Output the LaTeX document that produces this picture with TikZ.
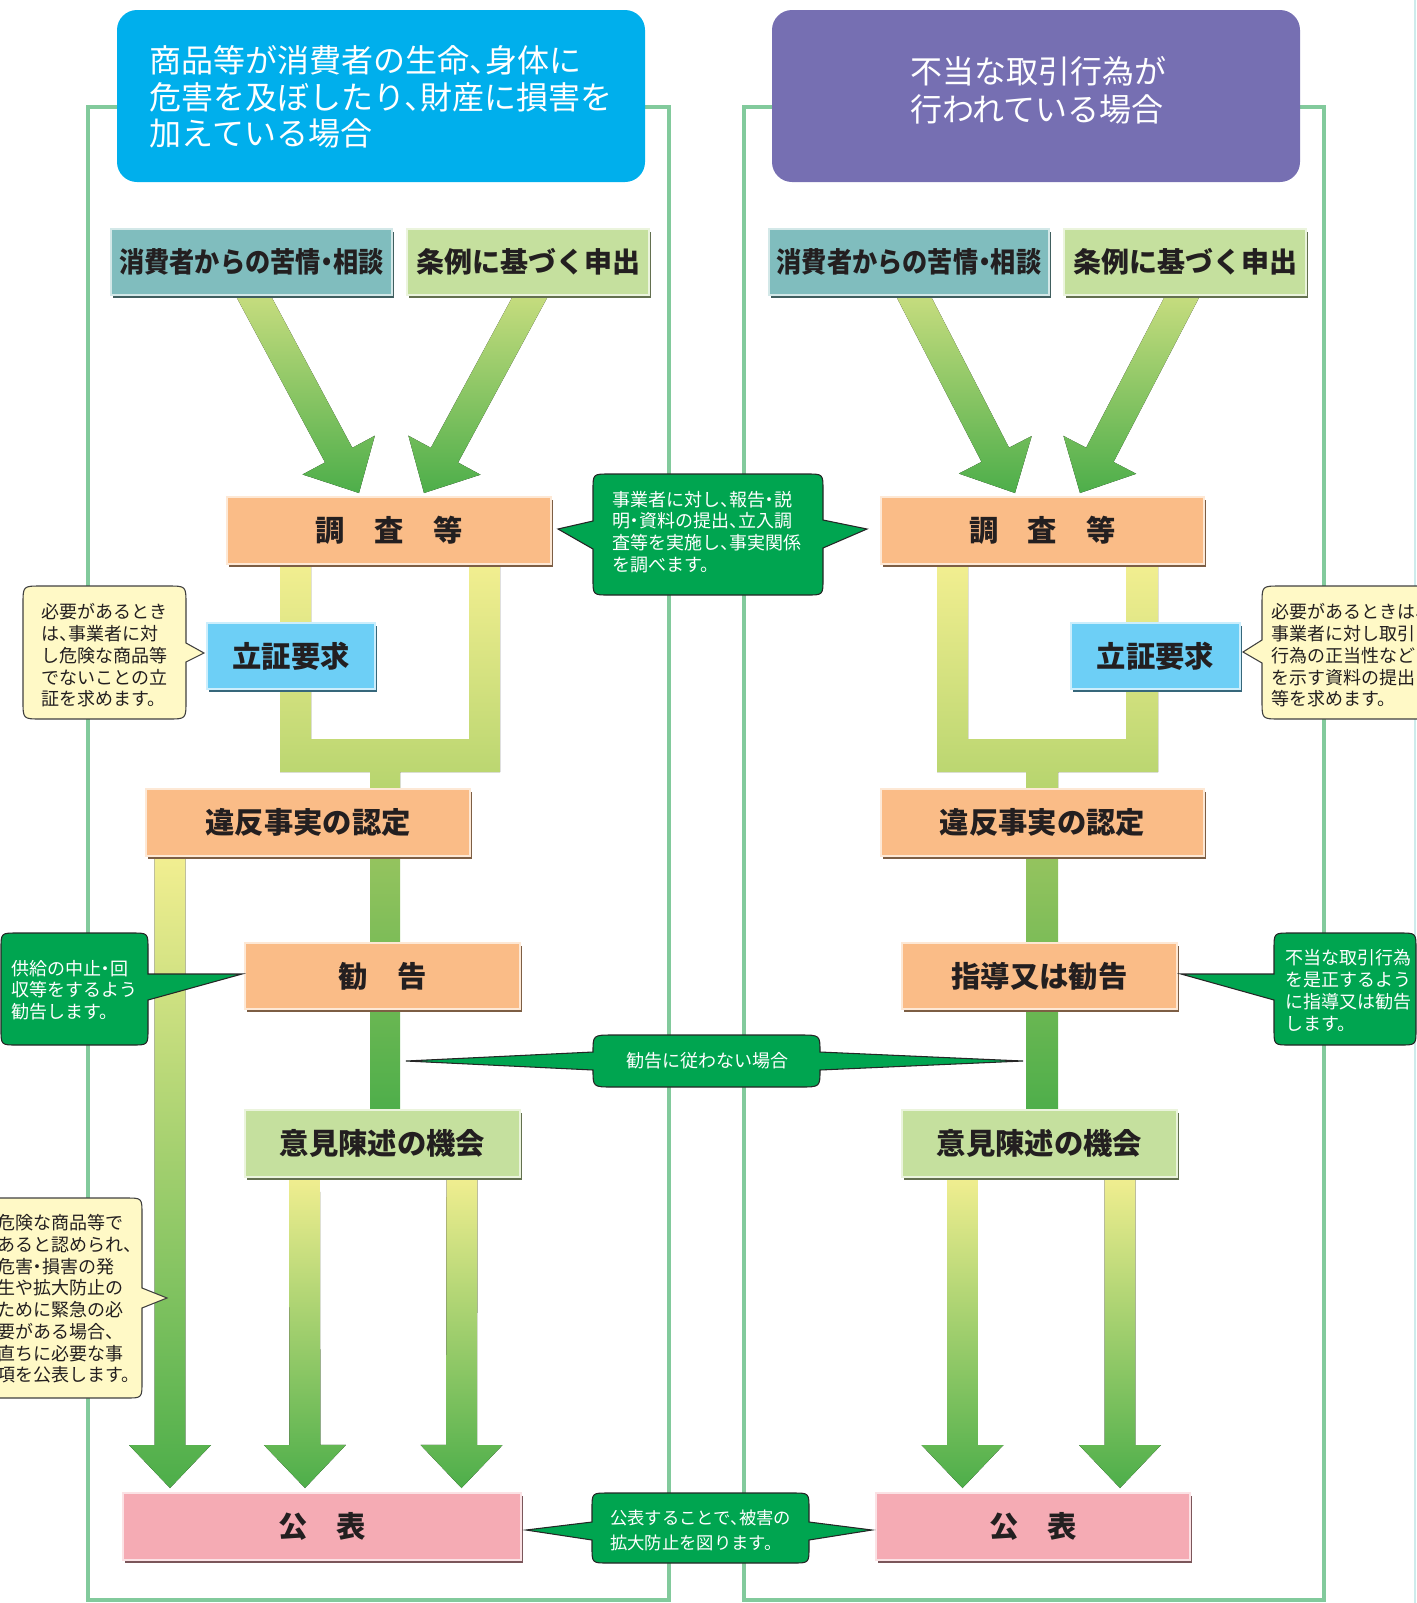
\documentclass[tikz,border=0pt]{standalone}
\usepackage{fontspec}
\setmainfont{Noto Sans CJK JP}[RawFeature=+halt]
\usepackage{graphicx}
\usetikzlibrary{calc,shadows,backgrounds}

\definecolor{frameGreen}{RGB}{130,202,156}
\definecolor{headBlue}{RGB}{0,175,236}
\definecolor{headPurple}{RGB}{118,111,178}
\definecolor{claimTeal}{RGB}{128,189,190}
\definecolor{appLime}{RGB}{197,224,158}
\definecolor{stepOrange}{RGB}{250,188,135}
\definecolor{proofBlue}{RGB}{109,207,246}
\definecolor{pubPink}{RGB}{245,171,180}
\definecolor{noteGreen}{RGB}{0,165,80}
\definecolor{noteYellow}{RGB}{255,249,198}
\definecolor{barYellow}{RGB}{243,239,145}
\definecolor{barLime}{RGB}{182,212,110}
\definecolor{barMid}{RGB}{150,196,95}
\definecolor{barGreen}{RGB}{77,174,74}
\definecolor{arrowTop}{RGB}{218,228,135}
\definecolor{inkDark}{RGB}{35,31,32}
\definecolor{edgeCyan}{RGB}{205,236,236}

\tikzset{
  colframe/.style={draw=frameGreen, line width=3pt},
  headbox/.style={fill=#1, rounded corners=15pt, inner sep=0pt,
    minimum width=396pt, minimum height=129pt},
  headtext/.style={text=white, align=left, inner sep=0pt,
    font=\fontsize{24}{27.5}\selectfont},
  stepbox/.style={fill=#1, draw=#1!35!white, line width=1.5pt, inner sep=0pt, text=inkDark,
    drop shadow={shadow xshift=1.2pt, shadow yshift=-2pt, fill=#1!50!black, opacity=1},
    font=\bfseries\fontsize{22}{26}\selectfont},
  subbox/.style={stepbox=#1, font=\bfseries\fontsize{21}{25}\selectfont},
  callG/.style={fill=noteGreen, draw=black!85, line width=0.8pt},
  callY/.style={fill=noteYellow, draw=black!75, line width=0.8pt},
  notetext/.style={anchor=west, align=left, inner sep=0pt, text=inkDark,
    font=\fontsize{13.5}{16.3}\selectfont},
  notewhite/.style={notetext, text=white},
  joinbar/.style={top color=barYellow, bottom color=barLime},
  midbar/.style={top color=barMid, bottom color=barGreen},
  downbar/.style={top color=barYellow, bottom color=barGreen},
  slantbar/.style={top color=arrowTop, bottom color=barGreen},
}

% fat shaded arrow from #2 to tip #3
\newcommand{\fatarrow}[3][]{%
  \path (#2) coordinate (fa-s) (#3) coordinate (fa-t);
  \path ($(fa-t)!32.25pt!(fa-s)$) coordinate (fa-h);
  \fill[#1] ($(fa-s)!11.6pt!90:(fa-t)$) -- ($(fa-h)!11.6pt!90:(fa-t)$)
    -- ($(fa-h)!30.75pt!90:(fa-t)$) -- (fa-t)
    -- ($(fa-h)!30.75pt!-90:(fa-t)$) -- ($(fa-h)!11.6pt!-90:(fa-t)$)
    -- ($(fa-s)!11.6pt!-90:(fa-t)$) -- cycle;}

\begin{document}
\begin{tikzpicture}[x=0.75pt,y=0.75pt,yscale=-1,xscale=1]
\useasboundingbox (0,0) rectangle (1417,1603);
\clip (0,0) rectangle (1417,1603);

% Header boxes
\node[headbox=headBlue] (headL) at (381,96) {};
\node[headtext] (headLtext) at (381,97) {商品等が消費者の生命、身体に\\危害を及ぼしたり、財産に損害を\\加えている場合};
\node[headbox=headPurple] (headR) at (1036,96) {};
\node[headtext, font=\fontsize{24}{28.3}\selectfont] (headRtext) at (1038,90) {不当な取引行為が\\行われている場合};

% Source boxes
\node[subbox=claimTeal, minimum width=210.75pt, minimum height=49.5pt] (claimL) at (251.5,262) {\scalebox{0.9}[1]{消費者からの苦情・相談}};
\node[subbox=appLime, minimum width=181.5pt, minimum height=49.5pt] (appL) at (528,262) {条例に基づく申出};
\node[subbox=claimTeal, minimum width=210pt, minimum height=49.5pt] (claimR) at (909,262) {\scalebox{0.9}[1]{消費者からの苦情・相談}};
\node[subbox=appLime, minimum width=181.5pt, minimum height=49.5pt] (appR) at (1185,262) {条例に基づく申出};

% Step boxes
\node[stepbox=stepOrange, minimum width=243pt, minimum height=50.25pt] (surveyL) at (389,530.5) {調\hspace{1em}査\hspace{1em}等};
\node[stepbox=stepOrange, minimum width=242.25pt, minimum height=50.25pt] (surveyR) at (1042.5,530.5) {調\hspace{1em}査\hspace{1em}等};
\node[stepbox=proofBlue, minimum width=126pt, minimum height=49.5pt] (proofL) at (291,656) {立証要求};
\node[stepbox=proofBlue, minimum width=126.75pt, minimum height=49.5pt] (proofR) at (1155.5,656) {立証要求};
\node[stepbox=stepOrange, minimum width=243pt, minimum height=50.25pt] (factL) at (308,822.5) {違反事実の認定};
\node[stepbox=stepOrange, minimum width=242.25pt, minimum height=50.25pt] (factR) at (1042.5,822.5) {違反事実の認定};
\node[stepbox=stepOrange, minimum width=206.25pt, minimum height=49.5pt] (adviseL) at (382.5,976) {勧\hspace{1em}告};
\node[stepbox=stepOrange, minimum width=206.25pt, minimum height=49.5pt] (adviseR) at (1039.5,976) {指導又は勧告};
\node[stepbox=appLime, minimum width=206.25pt, minimum height=50.25pt] (hearL) at (382.5,1143.5) {意見陳述の機会};
\node[stepbox=appLime, minimum width=206.25pt, minimum height=50.25pt] (hearR) at (1039.5,1143.5) {意見陳述の機会};
\node[stepbox=pubPink, minimum width=298.5pt, minimum height=50.25pt] (pubL) at (322,1526.5) {公\hspace{1em}表};
\node[stepbox=pubPink, minimum width=235.5pt, minimum height=50.25pt] (pubR) at (1033,1526.5) {公\hspace{1em}表};

\begin{pgfonlayer}{background}
% Column frames
\draw[colframe] (88,107) rectangle (669,1600);
\draw[colframe] (744,107) rectangle (1324,1600);
\draw[edgeCyan, line width=1.5pt] (1415,0) -- (1415,1603);
% Slanted arrows into the survey boxes
\fatarrow[slantbar]{$(claimL.south)+(-12,-26)$}{$(surveyL.north)+(-30,-3)$}
\fatarrow[slantbar]{$(appL.south)+(16.6,-26)$}{$(surveyL.north)+(35,-3)$}
\fatarrow[slantbar]{$(claimR.south)+(-9,-26)$}{$(surveyR.north)+(-27.5,-3)$}
\fatarrow[slantbar]{$(appR.south)+(11,-26)$}{$(surveyR.north)+(37.5,-3)$}
% Joining bars below the survey boxes
\fill[joinbar] ($(surveyL.south)+(-109,-5)$) -- ++(31,0) -- ++(0,179) -- ++(158,0) -- ++(0,-179) -- ++(31,0) -- ++(0,212) -- ++(-100,0) -- ++(0,20) -- ++(-30,0) -- ++(0,-20) -- ++(-90,0) -- cycle;
\fill[joinbar] ($(surveyR.south)+(-105.5,-5)$) -- ++(31,0) -- ++(0,179) -- ++(158,0) -- ++(0,-179) -- ++(32,0) -- ++(0,212) -- ++(-100,0) -- ++(0,20) -- ++(-32,0) -- ++(0,-20) -- ++(-89,0) -- cycle;
% Middle bars
\fill[midbar] ($(factL.south)+(62,-5)$) rectangle ($(hearL.north)+(17.5,5)$);
\fill[midbar] ($(factR.south)+(-16.5,-5)$) rectangle ($(hearR.north)+(18.5,5)$);
% Arrows down to publication
\fatarrow[downbar]{$(factL.south)+(-138,-5)$}{$(pubL.north)+(-152,-4)$}
\fatarrow[downbar]{$(hearL.south)+(-78,-5)$}{$(pubL.north)+(-17,-4)$}
\fatarrow[downbar]{$(hearL.south)+(79.5,-5)$}{$(pubL.north)+(139.5,-4)$}
\fatarrow[downbar]{$(hearR.south)+(-77,-5)$}{$(pubR.north)+(-70.5,-4)$}
\fatarrow[downbar]{$(hearR.south)+(80.5,-5)$}{$(pubR.north)+(87,-4)$}
\end{pgfonlayer}

%Shape: Callout survey
\draw[callG] (609,474) -- (807,474) .. controls (823,474) .. (823,490) -- (823,520) -- (867,529) -- (823,548) -- (823,579) .. controls (823,595) .. (807,595) -- (609,595) .. controls (593,595) .. (593,579) -- (593,549) -- (558,529) -- (593,521) -- (593,490) .. controls (593,474) .. (609,474) -- cycle;
%Shape: Callout proof left
\draw[callY] (41,586) -- (168,586) .. controls (186,586) .. (186,604) -- (186,643) -- (204,653) -- (186,662) -- (186,701) .. controls (186,719) .. (168,719) -- (41,719) .. controls (23,719) .. (23,701) -- (23,604) .. controls (23,586) .. (41,586) -- cycle;
%Shape: Callout proof right
\draw[callY] (1280,586) -- (1422,586) .. controls (1440,586) .. (1440,604) -- (1440,701) .. controls (1440,719) .. (1422,719) -- (1280,719) .. controls (1262,719) .. (1262,701) -- (1262,663) -- (1243,652) -- (1262,640) -- (1262,604) .. controls (1262,586) .. (1280,586) -- cycle;
%Shape: Callout advise left
\draw[callG] (17,933) -- (132,933) .. controls (148,933) .. (148,949) -- (148,974) -- (242,974) -- (148,1000) -- (148,1029) .. controls (148,1045) .. (132,1045) -- (17,1045) .. controls (1,1045) .. (1,1029) -- (1,949) .. controls (1,933) .. (17,933) -- cycle;
%Shape: Callout advise right
\draw[callG] (1290,933) -- (1400,933) .. controls (1416,933) .. (1416,949) -- (1416,1029) .. controls (1416,1045) .. (1400,1045) -- (1290,1045) .. controls (1274,1045) .. (1274,1029) -- (1274,1000) -- (1181,974) -- (1274,974) -- (1274,949) .. controls (1274,933) .. (1290,933) -- cycle;
%Shape: Callout ignore
\draw[callG] (613,1035) -- (800,1035) .. controls (820,1035) .. (820,1052) -- (1023,1061) -- (820,1070) .. controls (820,1087) .. (800,1087) -- (613,1087) .. controls (593,1087) .. (593,1070) -- (406,1061) -- (593,1052) .. controls (593,1035) .. (613,1035) -- cycle;
%Shape: Callout publish left
\draw[callY] (-4,1198) -- (126,1198) .. controls (142,1198) .. (142,1214) -- (142,1288) -- (167,1298) -- (142,1308) -- (142,1382) .. controls (142,1398) .. (126,1398) -- (-4,1398) .. controls (-20,1398) .. (-20,1382) -- (-20,1214) .. controls (-20,1198) .. (-4,1198) -- cycle;
%Shape: Callout publish
\draw[callG] (608,1493) -- (793,1493) .. controls (809,1493) .. (809,1509) -- (809,1522) -- (872,1530) -- (809,1540) -- (809,1547) .. controls (809,1563) .. (793,1563) -- (608,1563) .. controls (592,1563) .. (592,1547) -- (592,1540) -- (526,1530) -- (592,1522) -- (592,1509) .. controls (592,1493) .. (608,1493) -- cycle;

% Callout texts
\node[notewhite] (noteSurvey) at (612,532) {事業者に対し、報告・説\\明・資料の提出、立入調\\査等を実施し、事実関係\\を調べます。};
\node[notetext] (noteProofL) at (41,655.5) {必要があるとき\\は、事業者に対\\し危険な商品等\\でないことの立\\証を求めます。};
\node[notetext] (noteProofR) at (1271,655.5) {必要があるときは、\\事業者に対し取引\\行為の正当性など\\を示す資料の提出\\等を求めます。};
\node[notewhite] (noteAdviseL) at (11,990) {供給の中止・回\\収等をするよう\\勧告します。};
\node[notewhite, anchor=center] (noteIgnore) at (707,1061) {勧告に従わない場合};
\node[notewhite] (noteAdviseR) at (1285,990.5) {不当な取引行為\\を是正するよう\\に指導又は勧告\\します。};
\node[notetext] (notePubL) at (-3,1299) {危険な商品等で\\あると認められ、\\危害・損害の発\\生や拡大防止の\\ために緊急の必\\要がある場合、\\直ちに必要な事\\項を公表します。};
\node[notewhite, font=\fontsize{13}{18.5}\selectfont] (notePub) at (610,1530.5) {公表することで、被害の\\拡大防止を図ります。};

\end{tikzpicture}
\end{document}
